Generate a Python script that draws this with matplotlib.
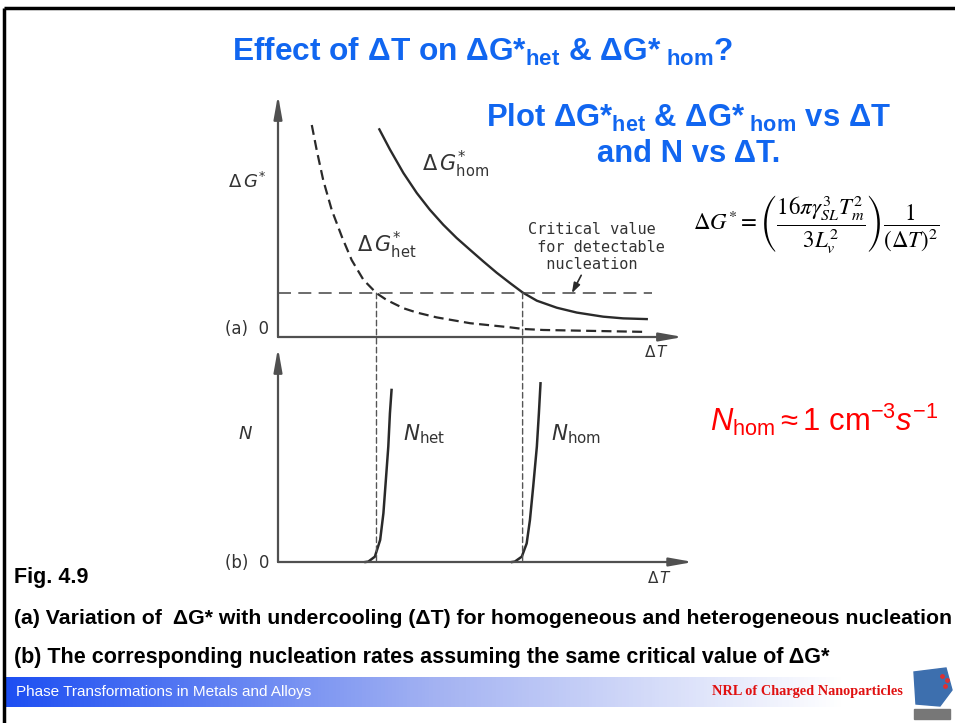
import numpy as np
import matplotlib.pyplot as plt
from matplotlib.patches import ConnectionPatch, Polygon, Rectangle
from matplotlib.colors import LinearSegmentedColormap

plt.rcParams['font.family'] = ['Liberation Sans', 'DejaVu Sans']
plt.rcParams['mathtext.fontset'] = 'custom'
plt.rcParams['mathtext.rm'] = 'Liberation Sans'
plt.rcParams['mathtext.it'] = 'Liberation Sans:italic'
plt.rcParams['mathtext.bf'] = 'Liberation Sans:bold'

# values (arbitrary units, both axes 0..10)
dT_hom = [2.49, 2.75, 3.08, 3.41, 3.73, 4.06, 4.39, 4.72, 5.04, 5.37, 5.70, 6.01,
          6.36, 6.85, 7.34, 7.99, 8.48, 9.06]
dG_hom = [8.58, 7.75, 6.78, 5.95, 5.26, 4.64, 4.09, 3.60, 3.13, 2.66, 2.23, 1.84,
          1.50, 1.21, 1.01, 0.84, 0.77, 0.74]
dT_het = [0.83, 0.95, 1.11, 1.32, 1.57, 1.81, 2.10, 2.42, 2.67, 3.08, 3.41, 3.90,
          4.72, 5.70, 6.03, 6.52, 9.06]
dG_het = [8.76, 7.73, 6.49, 5.25, 4.14, 3.18, 2.36, 1.81, 1.53, 1.19, 1.01, 0.81,
          0.57, 0.40, 0.33, 0.29, 0.21]
dG_crit = 1.81
dT_crit_end = 9.18
dT_onset = [2.42, 6.01]
dT_Nhet = [2.15, 2.22, 2.38, 2.51, 2.59, 2.65, 2.71, 2.75, 2.79]
N_het = [0.0, 0.02, 0.25, 1.03, 2.28, 3.83, 5.39, 6.95, 8.04]
dT_Nhom = [5.75, 5.82, 5.99, 6.11, 6.19, 6.27, 6.36, 6.41, 6.45]
N_hom = [0.0, 0.02, 0.25, 0.87, 1.96, 3.52, 5.39, 6.95, 8.35]

W, H = 955, 723
ink = '#2a2a2a'
axis_col = '#505050'
blue = '#1166f0'

fig = plt.figure(figsize=(W / 100, H / 100), dpi=100)
bg = fig.add_axes([0, 0, 1, 1])
bg.axis('off')

# footer gradient bar
grad = np.linspace(0, 1, 256).reshape(1, -1)
foot_cmap = LinearSegmentedColormap.from_list(
    'foot', [(0, '#1d4ff2'), (0.45, '#a3b2f2'), (0.88, '#ffffff'), (1, '#ffffff')])
bg.imshow(grad, extent=[6, 955, 707, 677], aspect='auto', cmap=foot_cmap, zorder=0)
bg.set_xlim(0, W)
bg.set_ylim(H, 0)

# slide frame
bg.plot([4, W], [8, 8], color='black', lw=2.5, solid_capstyle='butt')
bg.plot([4, 4], [8, H], color='black', lw=2.5, solid_capstyle='butt')

# logo stand-in
bg.add_patch(Polygon([[914, 672], [946, 668], [952, 690], [940, 706], [916, 704]],
                     closed=True, color='#3d6fae'))
bg.add_patch(Rectangle((914, 709), 36, 10, color='#777777'))
bg.scatter([942, 947, 945], [676, 680, 686], s=6, color='#e03030')

# slide text
bg.text(483, 52, r'Effect of ΔT on ΔG*$_{\mathbf{het}}$ & ΔG*$_{\mathbf{\ hom}}$?',
        color=blue, fontsize=22.8, fontweight='bold', ha='center', va='center')
bg.text(688, 118, r'Plot ΔG*$_{\mathbf{het}}$ & ΔG*$_{\mathbf{\ hom}}$ vs ΔT',
        color=blue, fontsize=22.3, fontweight='bold', ha='center', va='center')
bg.text(689, 154, 'and N vs ΔT.', color=blue, fontsize=22.3, fontweight='bold',
        ha='center', va='center')
bg.text(816, 224,
        r'$\Delta G^{*} = \left(\dfrac{16\pi\gamma_{SL}^{3}T_{m}^{2}}{3L_{v}^{2}}\right)\dfrac{1}{(\Delta T)^{2}}$',
        math_fontfamily='stix', fontsize=16.5, ha='center', va='center', color='black')
bg.text(824, 420, r'$N_{\mathrm{hom}}\approx 1\ \mathrm{cm}^{-3}s^{-1}$',
        color='#ff0000', fontsize=22.3, ha='center', va='center')

bg.text(14, 578, 'Fig. 4.9', fontsize=15.5, fontweight='bold', va='center')
bg.text(14, 618, '(a) Variation of  ΔG* with undercooling (ΔT) for homogeneous and heterogeneous nucleation',
        fontsize=15.3, fontweight='bold', va='center')
bg.text(14, 658, '(b) The corresponding nucleation rates assuming the same critical value of ΔG*',
        fontsize=15.5, fontweight='bold', va='center')
bg.text(16, 692, 'Phase Transformations in Metals and Alloys', color='white',
        fontsize=11, va='center')
bg.text(903, 692, 'NRL of Charged Nanoparticles', color='#e01010', fontsize=10.3,
        fontweight='bold', family='Liberation Serif', ha='right', va='center')


def px_axes(left, right, top, bottom):
    ax = fig.add_axes([left / W, 1 - bottom / H, (right - left) / W, (bottom - top) / H])
    ax.set_xlim(0, 10)
    ax.set_ylim(0, 10)
    ax.axis('off')
    return ax


ax_a = px_axes(278, 685, 95, 337)
ax_b = px_axes(278, 685, 348, 562)

arrow_kw = dict(arrowstyle='-|>,head_length=1.4,head_width=0.25', color=axis_col,
                lw=1.6, shrinkA=0, shrinkB=0, mutation_scale=10)
for ax, xtip, ytip in [(ax_a, 0.995, 1.0), (ax_b, 1.02, 1.0)]:
    ax.annotate('', xy=(xtip, 0), xytext=(0, 0), xycoords='axes fraction', arrowprops=arrow_kw)
    ax.annotate('', xy=(0, ytip), xytext=(0, 0), xycoords='axes fraction', arrowprops=arrow_kw)

# (a) free energy barrier curves
ax_a.plot(dT_hom, dG_hom, color=ink, lw=1.7, clip_on=False, solid_joinstyle='round')
ax_a.plot(dT_het, dG_het, color=ink, lw=1.6, dashes=(4.5, 2.4), clip_on=False)
ax_a.hlines(dG_crit, 0, dT_crit_end, color='#444444', lw=1.1, linestyles=(0, (8.5, 4.8)))
ax_a.annotate('', xy=(7.22, dG_crit), xytext=(7.45, 2.55),
              arrowprops=dict(arrowstyle='-|>,head_length=0.6,head_width=0.2',
                              color=ink, lw=1.2, shrinkA=0, shrinkB=0, mutation_scale=10))

# drop lines from the critical value to the onset of nucleation
for x in dT_onset:
    con = ConnectionPatch(xyA=(x, dG_crit), coordsA='data', axesA=ax_a,
                          xyB=(x, 0), coordsB='data', axesB=ax_b,
                          color='#555555', lw=1.0, linestyle=(0, (4, 2.5)))
    fig.add_artist(con)

# (b) nucleation rates
ax_b.plot(dT_Nhet, N_het, color=ink, lw=1.8, clip_on=False, solid_joinstyle='round')
ax_b.plot(dT_Nhom, N_hom, color=ink, lw=1.8, clip_on=False, solid_joinstyle='round')

# diagram lettering
lab = dict(color='#333333', math_fontfamily='dejavusans', family='DejaVu Sans')
bg.text(247, 182, r'$\Delta\,G^{*}$', fontsize=13, ha='center', va='center', **lab)
bg.text(422, 164, r'$\Delta\,G^{*}_{\mathrm{hom}}$', fontsize=15, ha='left', va='center', **lab)
bg.text(357, 245, r'$\Delta\,G^{*}_{\mathrm{het}}$', fontsize=15, ha='left', va='center', **lab)
bg.text(528, 247, 'Critical value\n for detectable\n  nucleation', fontsize=11,
        ha='left', va='center', linespacing=1.2, color='#333333', family='DejaVu Sans Mono')
bg.text(247, 329, '(a)  0', fontsize=12, ha='center', va='center', **lab)
bg.text(657, 352, r'$\Delta\,T$', fontsize=11, ha='center', va='center', **lab)
bg.text(247, 563, '(b)  0', fontsize=12, ha='center', va='center', **lab)
bg.text(245, 434, r'$N$', fontsize=13, ha='center', va='center', **lab)
bg.text(660, 578, r'$\Delta\,T$', fontsize=11, ha='center', va='center', **lab)
bg.text(403, 434, r'$N_{\mathrm{het}}$', fontsize=15.5, ha='left', va='center', **lab)
bg.text(551, 434, r'$N_{\mathrm{hom}}$', fontsize=15.5, ha='left', va='center', **lab)

fig.savefig('out.png', dpi=100)
